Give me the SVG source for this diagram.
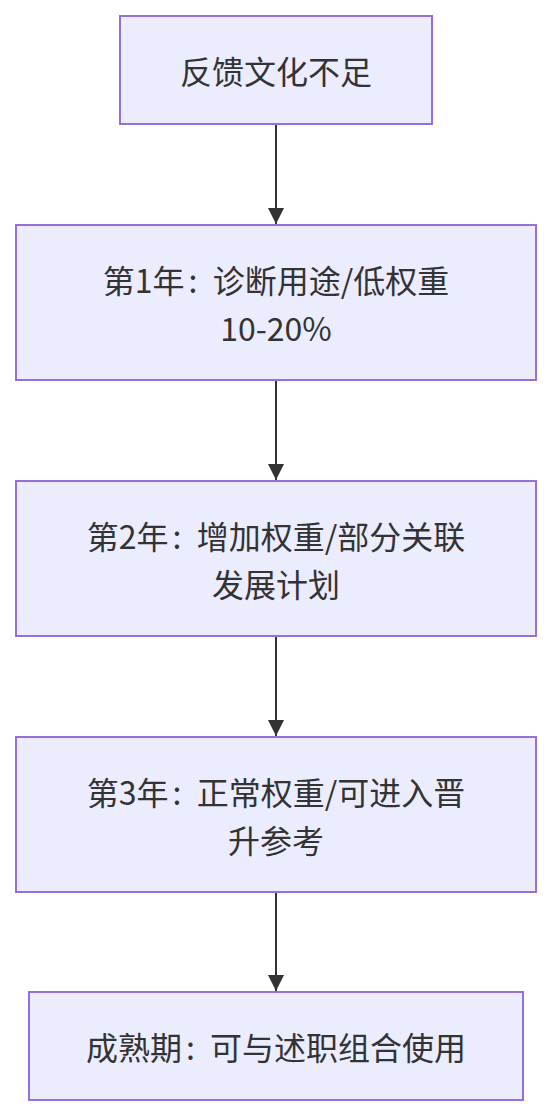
<svg xmlns="http://www.w3.org/2000/svg" width="552" height="1116" viewBox="0 0 552 1116">
<style>
.node rect{fill:#ECECFF;stroke:#9370DB;stroke-width:2}
.node text{font-family:"Noto Sans CJK SC","Noto Sans",sans-serif;font-size:32px;fill:#333;text-anchor:middle;dominant-baseline:central}
.edge{stroke:#333;stroke-width:2;fill:none}
</style>
<defs>
<marker id="arrow" viewBox="0 0 10 10" refX="10" refY="5" markerWidth="8" markerHeight="8" markerUnits="strokeWidth" orient="auto">
<path d="M0,0 L10,5 L0,10 z" fill="#333"/>
</marker>
</defs>
<rect width="552" height="1116" fill="#fff"/>
<g id="connectors">
<line class="edge" x1="276" y1="124" x2="276" y2="224" marker-end="url(#arrow)"/>
<line class="edge" x1="276" y1="380" x2="276" y2="480" marker-end="url(#arrow)"/>
<line class="edge" x1="276" y1="636" x2="276" y2="736" marker-end="url(#arrow)"/>
<line class="edge" x1="276" y1="892" x2="276" y2="991" marker-end="url(#arrow)"/>
</g>
<g id="n1" class="node">
<rect x="120" y="16" width="312" height="108"/>
<text x="276" y="70">反馈文化不足</text>
</g>
<g id="n2" class="node">
<rect x="16" y="225" width="520" height="155"/>
<text x="276" y="278.5">第1年<tspan dx="4">:</tspan><tspan dx="8"> 诊断用途/低权重</tspan></text>
<text x="276" y="326.5">10-20%</text>
</g>
<g id="n3" class="node">
<rect x="16" y="481" width="520" height="155"/>
<text x="276" y="534.5">第2年<tspan dx="4">:</tspan><tspan dx="8"> 增加权重/部分关联</tspan></text>
<text x="276" y="582.5">发展计划</text>
</g>
<g id="n4" class="node">
<rect x="16" y="737" width="520" height="155"/>
<text x="276" y="790.5">第3年<tspan dx="4">:</tspan><tspan dx="8"> 正常权重/可进入晋</tspan></text>
<text x="276" y="838.5">升参考</text>
</g>
<g id="n5" class="node">
<rect x="29" y="992" width="494" height="108"/>
<text x="276" y="1046">成熟期<tspan dx="4">:</tspan><tspan dx="8"> 可与述职组合使用</tspan></text>
</g>
</svg>
